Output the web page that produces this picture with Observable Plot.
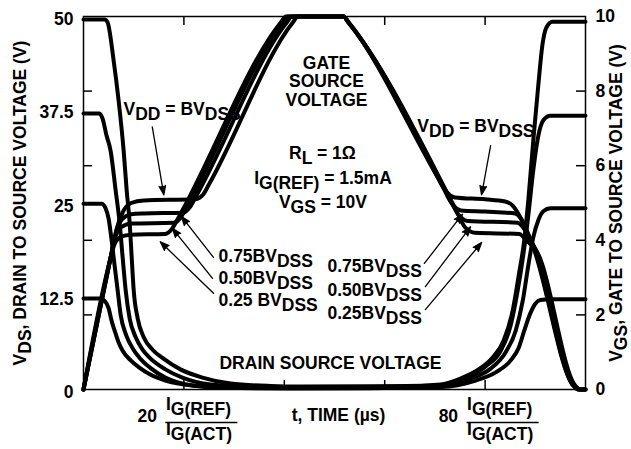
<!DOCTYPE html>
<html>
<head>
<meta charset="utf-8">
<script src="https://cdn.jsdelivr.net/npm/d3@7"></script>
<script src="https://cdn.jsdelivr.net/npm/@observablehq/plot@0.6"></script>
<style>
  html, body { margin: 0; padding: 0; background: #fff; }
  #chart { width: 631px; height: 449px; }
</style>
</head>
<body>
<div id="chart"></div>
<script>
// ---- axis values ----
const timeTicks = [20, 40, 60, 80];
const vdsTickLabels = [0, 12.5, 25, 37.5, 50];
const vgsTickLabels = [0, 2, 4, 6, 8, 10];
const vgsInnerTicks = [2, 4, 6, 8];
const fractionTicks = [20, 80];

// ---- drain-source voltage curves: [t (µs), VDS (V)] ----
const vds50 = [[0,49.6],[4.2,49.6],[4.8,49.2],[6.0,44.1],[7.0,38.7],[8.0,32.0],[8.6,26.7],[9.2,22.3],[9.6,17.7],[10.0,13.3],[10.8,9.5],[12.0,7.0],[13.8,5.3],[15.8,4.2],[19.3,2.7],[23.7,1.6],[29.3,0.8],[37.3,0.47],[43.2,0.4],[63.1,0.4],[71.1,0.67],[75.1,1.47],[78.7,2.68],[81.5,4.29],[83.7,6.57],[85.5,10.6],[86.7,15.3],[87.8,20.0],[88.6,25.3],[89.6,33.4],[90.6,40.8],[91.4,46.1],[92.2,48.5],[93.4,49.3],[100,49.3]];
const vds375 = [[0,37.0],[3.2,37.0],[3.8,36.3],[4.6,34.0],[5.4,32.0],[6.4,26.7],[7.2,22.3],[7.8,17.7],[8.4,13.3],[9.2,9.5],[10.4,7.0],[11.8,5.3],[13.1,4.3],[16.3,2.7],[19.7,1.6],[25.3,0.67],[33.3,0.34],[43.2,0.34],[71.1,0.54],[76.1,1.6],[80.1,3.1],[83.1,5.2],[85.1,8.6],[86.5,13.3],[87.6,18.0],[88.6,23.3],[89.6,29.4],[90.6,34.0],[91.6,36.1],[93.0,36.7],[100,36.7]];
const vds25 = [[0,24.9],[3.6,24.9],[4.4,24.3],[5.0,22.9],[5.6,20.0],[6.2,16.6],[6.8,13.3],[7.4,10.0],[8.5,7.3],[9.9,5.4],[11.1,4.3],[13.3,2.9],[16.3,1.6],[21.7,0.54],[29.3,0.2],[43.2,0.2],[71.1,0.4],[77.1,1.47],[81.1,2.8],[84.1,5.0],[86.1,7.9],[87.5,11.9],[88.6,16.6],[89.6,20.4],[90.6,22.7],[91.6,23.9],[93.0,24.3],[100,24.3]];
const vds125 = [[0,12.2],[3.4,12.2],[4.2,11.9],[5.0,10.9],[5.6,9.2],[6.2,7.9],[7.0,6.3],[7.8,5.2],[9.4,3.9],[11.2,2.9],[13.3,2.0],[16.3,1.2],[21.7,0.54],[31.3,0.2],[43.2,0.13],[71.1,0.34],[78.1,1.2],[82.1,2.3],[85.1,3.9],[86.7,5.6],[87.8,7.9],[89.0,10.2],[90.0,11.5],[91.0,12.0],[93.0,12.1],[100,12.1]];

// ---- gate-source voltage curves: [t (µs), VGS (V)] ----
const vgsBV = [[0,0],[5.5,3.6],[6.6,4.3],[7.8,4.75],[9.5,5.0],[12,5.07],[22.3,5.1],[23.8,5.22],[25.0,5.5],[41.7,9.84],[42.7,10],[51.8,10],[52.8,9.84],[70.5,5.7],[72,5.35],[74,5.15],[80,5.1],[84,5.04],[85.5,4.93],[87,4.62],[89.6,3.81],[97.5,0.12],[98.5,0],[100,0]];
const vgs075 = [[0,0],[5.5,3.6],[6.5,4.22],[7.6,4.55],[9.5,4.7],[12,4.72],[19.8,4.74],[21.1,4.87],[22.3,5.15],[40.5,9.84],[41.5,10],[51.8,10],[52.8,9.84],[71.5,5.46],[73.3,5.0],[75.2,4.8],[80,4.77],[86,4.72],[87.3,4.55],[88.5,4.2],[89.8,3.8],[97.6,0.1],[98.6,0],[100,0]];
const vgs050 = [[0,0],[5.5,3.6],[6.4,4.12],[7.5,4.35],[9.5,4.45],[18.0,4.47],[19.3,4.6],[20.5,4.88],[39.7,9.84],[40.7,10],[51.8,10],[52.8,9.84],[72.7,5.18],[74.5,4.72],[76.5,4.52],[86.5,4.47],[87.8,4.3],[89,4.0],[90.1,3.75],[97.8,0.1],[98.8,0],[100,0]];
const vgs025 = [[0,0],[5.3,3.47],[6.2,3.9],[7.5,4.1],[9.5,4.15],[16.3,4.17],[17.6,4.3],[18.8,4.58],[39.3,9.84],[40.3,10],[51.8,10],[52.8,9.84],[74,4.87],[76,4.35],[78,4.2],[86.8,4.17],[88.2,4.0],[90.3,3.7],[98,0.1],[99,0],[100,0]];

// VGS axis (0..10 V) shares the frame with VDS axis (0..50 V)
const VGS_TO_VDS = 5;

const series = [
  {name: "vds50", pts: vds50, k: 1},
  {name: "vds375", pts: vds375, k: 1},
  {name: "vds25", pts: vds25, k: 1},
  {name: "vds125", pts: vds125, k: 1},
  {name: "vgsBV", pts: vgsBV, k: VGS_TO_VDS},
  {name: "vgs075", pts: vgs075, k: VGS_TO_VDS},
  {name: "vgs050", pts: vgs050, k: VGS_TO_VDS},
  {name: "vgs025", pts: vgs025, k: VGS_TO_VDS}
];
const rows = series.flatMap(s => s.pts.map(([t, v]) => ({name: s.name, t, v: v * s.k})));

const FS = 17.5;
const txt = {fontSize: FS, fontWeight: "bold", fill: "black"};

const pointers = [
  {x1: 13.7, y1: 35.2, x2: 16.0, y2: 26.1},
  {x1: 81.1, y1: 32.7, x2: 79.3, y2: 26.1},
  {x1: 25.9, y1: 17.7, x2: 19.5, y2: 23.2},
  {x1: 25.7, y1: 14.9, x2: 17.7, y2: 21.6},
  {x1: 25.9, y1: 12.9, x2: 15.3, y2: 19.8},
  {x1: 67.9, y1: 16.9, x2: 75.5, y2: 23.5},
  {x1: 68.1, y1: 13.8, x2: 77.1, y2: 21.8},
  {x1: 68.1, y1: 10.7, x2: 79.3, y2: 19.7}
];

const plot = Plot.plot({
  width: 631,
  height: 449,
  marginLeft: 83,
  marginRight: 46,
  marginTop: 16,
  marginBottom: 60,
  x: {domain: [0, 100], axis: null},
  y: {domain: [0, 50], axis: null},
  style: {fontFamily: "'Liberation Sans', Arial, Helvetica, sans-serif", background: "white", color: "black"},
  marks: [
    Plot.line(rows, {x: "t", y: "v", z: "name", curve: "monotone-x", stroke: "black", strokeWidth: 4, strokeLinejoin: "round"}),
    Plot.frame({stroke: "black", strokeWidth: 1.5}),
    Plot.ruleX(timeTicks, {x: d => d, insetBottom: 364, strokeWidth: 1.5}),
    Plot.ruleX(timeTicks, {x: d => d, insetTop: 364, strokeWidth: 1.5}),
    Plot.ruleY(vgsInnerTicks, {y: d => d * VGS_TO_VDS, insetRight: 493, strokeWidth: 1.5}),
    Plot.ruleY(vgsInnerTicks, {y: d => d * VGS_TO_VDS, insetLeft: 493, strokeWidth: 1.5}),
    // tick labels
    Plot.text(vdsTickLabels, {y: d => d, text: d => String(d), frameAnchor: "left", textAnchor: "end", dx: -10, dy: 3, ...txt}),
    Plot.text(vgsTickLabels, {y: d => d * VGS_TO_VDS, text: d => String(d), frameAnchor: "right", textAnchor: "start", dx: 10, ...txt}),
    // x labels
    Plot.text(fractionTicks, {x: d => d, text: d => String(d), frameAnchor: "bottom", textAnchor: "end", dx: -27, dy: 32.6, ...txt}),
    Plot.text(fractionTicks, {x: d => d, text: () => "I_{G(REF)}", frameAnchor: "bottom", textAnchor: "start", dx: -18, dy: 20.6, ...txt}),
    Plot.text(fractionTicks, {x: d => d, text: () => "I_{G(ACT)}", frameAnchor: "bottom", textAnchor: "start", dx: -18, dy: 45.6, ...txt}),
    Plot.text(["t, TIME (µs)"], {x: 50.8, frameAnchor: "bottom", textAnchor: "middle", dy: 31.6, ...txt}),
    // axis titles
    Plot.text(["V_{DS}, DRAIN TO SOURCE VOLTAGE (V)"], {frameAnchor: "left", textAnchor: "middle", dx: -63, rotate: -90, ...txt}),
    Plot.text(["V_{GS}, GATE TO SOURCE VOLTAGE (V)"], {frameAnchor: "right", textAnchor: "middle", dx: 31, rotate: -90, ...txt}),
    // annotations
    Plot.text(["GATE\nSOURCE\nVOLTAGE"], {x: 48.4, y: 41.3, lineHeight: 1.05, ...txt}),
    Plot.text(["V_{DD} = BV_{DSS}"], {x: 7.97, y: 37.6, textAnchor: "start", ...txt}),
    Plot.text(["V_{DD} = BV_{DSS}"], {x: 66.5, y: 35.3, textAnchor: "start", ...txt}),
    Plot.text(["R_{L} = 1Ω"], {x: 47.6, y: 31.7, ...txt}),
    Plot.text(["I_{G(REF)} = 1.5mA"], {x: 47.7, y: 28.3, ...txt}),
    Plot.text(["V_{GS} = 10V"], {x: 47.7, y: 25.1, ...txt}),
    Plot.text(["0.75BV_{DSS}"], {x: 26.9, y: 17.9, textAnchor: "start", ...txt}),
    Plot.text(["0.50BV_{DSS}"], {x: 26.9, y: 14.9, textAnchor: "start", ...txt}),
    Plot.text(["0.25 BV_{DSS}"], {x: 26.9, y: 12.0, textAnchor: "start", ...txt}),
    Plot.text(["0.75BV_{DSS}"], {x: 48.6, y: 16.5, textAnchor: "start", ...txt}),
    Plot.text(["0.50BV_{DSS}"], {x: 48.6, y: 13.3, textAnchor: "start", ...txt}),
    Plot.text(["0.25BV_{DSS}"], {x: 48.6, y: 10.2, textAnchor: "start", ...txt}),
    Plot.text(["DRAIN SOURCE VOLTAGE"], {x: 49.2, y: 3.54, ...txt}),
    Plot.arrow(pointers, {x1: "x1", y1: "y1", x2: "x2", y2: "y2", stroke: "black", fill: "black", strokeWidth: 1.3, headLength: 11, headAngle: 40})
  ]
});

// subscripts
function applySubscripts(root) {
  root.querySelectorAll("text").forEach(el => {
    const s = el.textContent;
    if (!s.includes("_{")) return;
    const parts = s.split(/(_\{[^}]*\})/).filter(p => p);
    while (el.firstChild) el.removeChild(el.firstChild);
    let shifted = false;
    for (const p of parts) {
      const ts = document.createElementNS("http://www.w3.org/2000/svg", "tspan");
      if (p.startsWith("_{")) {
        ts.textContent = p.slice(2, -1);
        ts.setAttribute("dy", "0.3em");
        shifted = true;
      } else {
        ts.textContent = p;
        if (shifted) { ts.setAttribute("dy", "-0.3em"); shifted = false; }
      }
      el.appendChild(ts);
    }
  });
}
applySubscripts(plot);

// fraction bars under the 20 and 80 tick labels
const xs = plot.scale("x");
const svg = d3.select(plot);
for (const v of fractionTicks) {
  const cx = xs.apply(v);
  svg.append("line")
    .attr("x1", cx - 18).attr("x2", cx + 54)
    .attr("y1", 422.5).attr("y2", 422.5)
    .attr("stroke", "black").attr("stroke-width", 1.5);
}

document.getElementById("chart").appendChild(plot);
</script>
</body>
</html>
